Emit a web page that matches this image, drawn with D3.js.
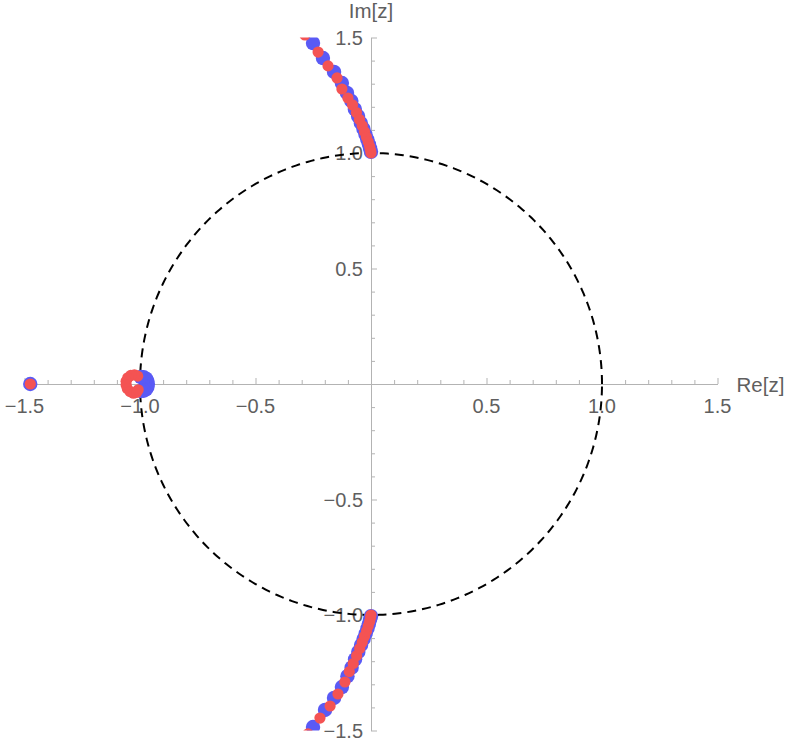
<!DOCTYPE html>
<html>
<head>
<meta charset="utf-8">
<script src="https://cdn.jsdelivr.net/npm/d3@7"></script>
<style>
  html, body { margin: 0; padding: 0; background: #fff; }
  svg { display: block; }
  text { font-family: "Liberation Sans", Arial, sans-serif; }
</style>
</head>
<body>
<svg id="chart" width="789" height="748"></svg>
<script>
// ---- data ----
const majorTicks = [-1.5, -1.0, -0.5, 0, 0.5, 1.0, 1.5];
const tickLabels = ["\u22121.5", "\u22121.0", "\u22120.5", "", "0.5", "1.0", "1.5"];
const minorTicks = [-1.4,-1.3,-1.2,-1.1,-0.9,-0.8,-0.7,-0.6,-0.4,-0.3,-0.2,-0.1,0.1,0.2,0.3,0.4,0.6,0.7,0.8,0.9,1.1,1.2,1.3,1.4];
const xAxisTitle = "Re[z]";
const yAxisTitle = "Im[z]";

// blue series (larger points): [re, im]
const blueTop = [
  [-0.251,1.476],[-0.208,1.411],[-0.160,1.351],[-0.126,1.303],[-0.104,1.260],
  [-0.085,1.225],[-0.070,1.190],[-0.056,1.160],[-0.044,1.130],[-0.033,1.105],
  [-0.024,1.080],[-0.016,1.058],[-0.009,1.038],[-0.004,1.020],[0.000,1.005]
];
const blueBottom = [
  [-0.251,-1.485],[-0.199,-1.411],[-0.160,-1.359],[-0.126,-1.312],[-0.102,-1.265],
  [-0.084,-1.228],[-0.069,-1.192],[-0.055,-1.160],[-0.043,-1.130],[-0.032,-1.104],
  [-0.023,-1.080],[-0.015,-1.058],[-0.009,-1.038],[-0.004,-1.020],[0.000,-1.005]
];
const blueCluster = [
  [-0.966,0.000],[-0.968,0.013],[-0.968,-0.013],[-0.974,0.023],[-0.974,-0.023],
  [-0.984,0.029],[-0.984,-0.029],[-0.996,0.030],[-0.996,-0.030]
];
const blueIsolated = [[-1.475, 0.000]];

// red series (smaller points): [re, im]
const redTop = [
  [-0.286,1.511],[-0.229,1.437],[-0.186,1.377],[-0.147,1.325],[-0.126,1.277],
  [-0.100,1.238],[-0.080,1.208],[-0.063,1.175],[-0.050,1.145],[-0.038,1.118],
  [-0.028,1.092],[-0.020,1.069],[-0.012,1.048],[-0.006,1.028],[-0.002,1.012],[0.000,1.000]
];
const redBottom = [
  [-0.273,-1.515],[-0.221,-1.446],[-0.177,-1.394],[-0.143,-1.342],[-0.113,-1.290],
  [-0.094,-1.245],[-0.077,-1.210],[-0.062,-1.176],[-0.049,-1.145],[-0.038,-1.118],
  [-0.028,-1.092],[-0.019,-1.069],[-0.012,-1.048],[-0.006,-1.028],[-0.002,-1.012],[0.000,-1.000]
];
const redCluster = [
  [-1.010,0.034],[-1.024,0.040],[-1.040,0.037],[-1.053,0.027],[-1.060,0.012],
  [-1.060,-0.004],[-1.055,-0.020],[-1.043,-0.033],[-1.028,-0.040],[-1.014,-0.036],
  [-1.008,-0.025]
];
const redIsolated = [[-1.475, 0.000]];

const unitCircleRadius = 1;

// ---- drawing ----
const svg = d3.select("#chart");
const x = d3.scaleLinear().domain([-1.5, 1.5]).range([24.5, 717.5]);
const y = d3.scaleLinear().domain([-1.5, 1.5]).range([730.5, 37.5]);

const axisColor = "#b3b3b3";
const labelColor = "#5f5f5f";

// unit circle (dashed)
const circlePts = d3.range(0, 361, 1).map(a => [unitCircleRadius*Math.cos(a*Math.PI/180), unitCircleRadius*Math.sin(a*Math.PI/180)]);
const line = d3.line().x(d => x(d[0])).y(d => y(d[1]));

// axes
const xAxisG = svg.append("g").attr("transform", `translate(0,${y(0)})`);
xAxisG.call(d3.axisTop(x).tickValues(minorTicks).tickSize(4).tickSizeOuter(0).tickFormat(""));
const xMaj = svg.append("g").attr("transform", `translate(0,${y(0)})`);
xMaj.call(d3.axisTop(x).tickValues(majorTicks.filter(v => v !== 0)).tickSize(6).tickSizeOuter(0).tickFormat(""));

const yAxisG = svg.append("g").attr("transform", `translate(${x(0)},0)`);
yAxisG.call(d3.axisRight(y).tickValues(minorTicks).tickSize(4).tickSizeOuter(0).tickFormat(""));
const yMaj = svg.append("g").attr("transform", `translate(${x(0)},0)`);
yMaj.call(d3.axisRight(y).tickValues(majorTicks.filter(v => v !== 0)).tickSize(6).tickSizeOuter(0).tickFormat(""));

svg.selectAll(".domain").attr("stroke", axisColor).attr("stroke-width", 1);
svg.selectAll(".tick line").attr("stroke", axisColor).attr("stroke-width", 1);

// tick labels
svg.append("g").selectAll("text").data(majorTicks.map((v,i)=>({v, t: tickLabels[i]})).filter(d => d.t !== ""))
  .join("text")
  .attr("x", d => x(d.v)).attr("y", y(0) + 29)
  .attr("text-anchor", "middle")
  .attr("font-size", 20).attr("fill", labelColor)
  .text(d => d.t);

svg.append("g").selectAll("text").data(majorTicks.map((v,i)=>({v, t: tickLabels[i]})).filter(d => d.t !== ""))
  .join("text")
  .attr("x", x(0) - 8).attr("y", d => y(d.v) + 7)
  .attr("text-anchor", "end")
  .attr("font-size", 20).attr("fill", labelColor)
  .text(d => d.t);

svg.append("text").attr("x", x(1.5) + 19).attr("y", y(0) + 8)
  .attr("font-size", 20.5).attr("fill", labelColor).text(xAxisTitle);
svg.append("text").attr("x", x(0)).attr("y", 18).attr("text-anchor", "middle")
  .attr("font-size", 20.5).attr("fill", labelColor).text(yAxisTitle);

// circle
svg.append("path").datum(circlePts).attr("d", line)
  .attr("fill", "none").attr("stroke", "#000").attr("stroke-width", 2)
  .attr("stroke-dasharray", "9,6");

// clip for points
svg.append("clipPath").attr("id", "plotclip").append("rect")
  .attr("x", 0).attr("y", y(1.5)).attr("width", 789).attr("height", y(-1.5) - y(1.5));

const pts = svg.append("g").attr("clip-path", "url(#plotclip)");
const blueAll = [].concat(blueTop, blueBottom, blueCluster, blueIsolated);
const redAll = [].concat(redTop, redBottom, redCluster, redIsolated);

pts.append("g").selectAll("circle").data(blueAll).join("circle")
  .attr("cx", d => x(d[0])).attr("cy", d => y(d[1])).attr("r", 7.2)
  .attr("fill", "#5a5af5");
pts.append("g").selectAll("circle").data(redAll).join("circle")
  .attr("cx", d => x(d[0])).attr("cy", d => y(d[1])).attr("r", 5.6)
  .attr("fill", "#f45353");
</script>
</body>
</html>
